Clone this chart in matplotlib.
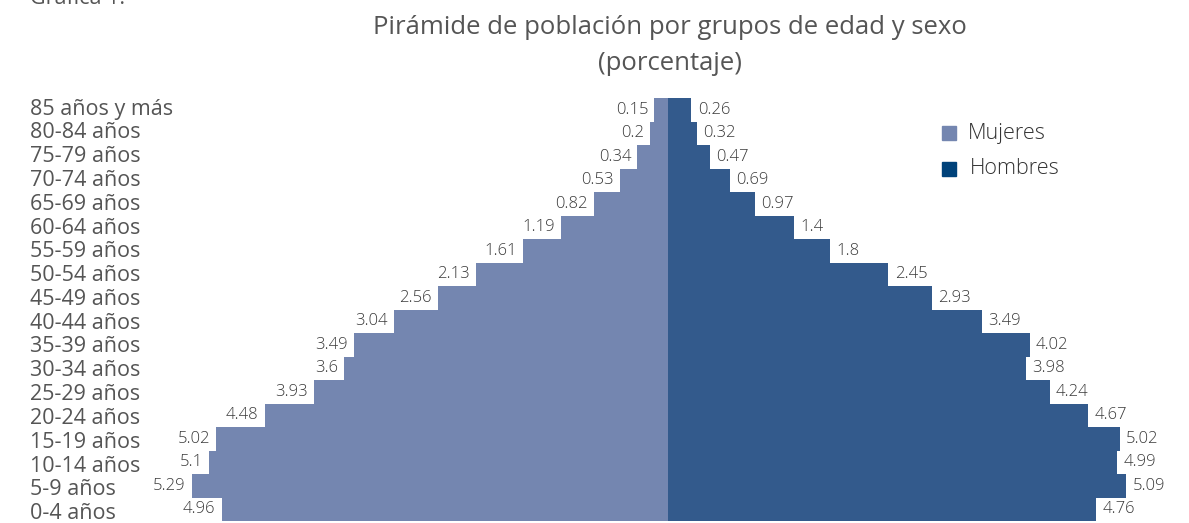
import matplotlib
matplotlib.use("Agg")
import matplotlib.pyplot as plt
from matplotlib.patches import Rectangle

plt.rcParams['font.family'] = ['Open Sans', 'DejaVu Sans']

age_groups = ["0-4 años", "5-9 años", "10-14 años", "15-19 años", "20-24 años",
              "25-29 años", "30-34 años", "35-39 años", "40-44 años", "45-49 años",
              "50-54 años", "55-59 años", "60-64 años", "65-69 años", "70-74 años",
              "75-79 años", "80-84 años", "85 años y más"]
mujeres = [4.96, 5.29, 5.1, 5.02, 4.48, 3.93, 3.6, 3.49, 3.04, 2.56,
           2.13, 1.61, 1.19, 0.82, 0.53, 0.34, 0.2, 0.15]
hombres = [4.76, 5.09, 4.99, 5.02, 4.67, 4.24, 3.98, 4.02, 3.49, 2.93,
           2.45, 1.8, 1.4, 0.97, 0.69, 0.47, 0.32, 0.26]

W, H = 1189, 523
fig = plt.figure(figsize=(W / 100, H / 100), dpi=100)
ax = fig.add_axes([0, 2 / H, 1, (521 - 98) / H])
cx, scale = 668, 90.0
ax.set_xlim(-cx / scale, (W - cx) / scale)
ax.set_ylim(-0.5, len(age_groups) - 0.5)
ax.axis('off')

c_muj = '#7486b0'
c_hom = '#335a8c'
y = list(range(len(age_groups)))
ax.barh(y, [-v for v in mujeres], height=1.0, color=c_muj, linewidth=0)
ax.barh(y, hombres, height=1.0, color=c_hom, linewidth=0)

val_color = '#3a3a3a'
for i, (m, h) in enumerate(zip(mujeres, hombres)):
    ax.annotate(f"{m:g}", (-m, i), xytext=(-4.5, 0), textcoords='offset points',
                ha='right', va='center', fontsize=12, color=val_color,
                fontweight='light')
    ax.annotate(f"{h:g}", (h, i), xytext=(4.5, 0), textcoords='offset points',
                ha='left', va='center', fontsize=12, color=val_color,
                fontweight='light')

n = len(age_groups)
for i, lab in enumerate(age_groups):
    ypx = 109 + 23.8 * (n - 1 - i)
    fig.text(30 / W, 1 - ypx / H, lab, ha='left', va='center',
             fontsize=15.5, color='#555555')

fig.text(670 / W, 1 - 28 / H, "Pirámide de población por grupos de edad y sexo",
         ha='center', va='center', fontsize=18.5, color='#555555')
fig.text(670 / W, 1 - 63 / H, "(porcentaje)", ha='center', va='center',
         fontsize=18.5, color='#555555')
fig.text(30 / W, 1 - 4 / H, "Gráfica 1.", ha='left', va='baseline',
         fontsize=15.5, color='#555555')

# legend
for yy, col, lab, xt in [(133, c_muj, "Mujeres", 968), (169, '#00427a', "Hombres", 970)]:
    fig.patches.append(Rectangle((942 / W, 1 - (yy + 7) / H), 14 / W, 14 / H,
                                 transform=fig.transFigure, color=col))
    fig.text(xt / W, 1 - yy / H, lab, ha='left', va='center', fontsize=15.5,
             color='#333333', fontweight='light')

fig.savefig("out.png", dpi=100)
